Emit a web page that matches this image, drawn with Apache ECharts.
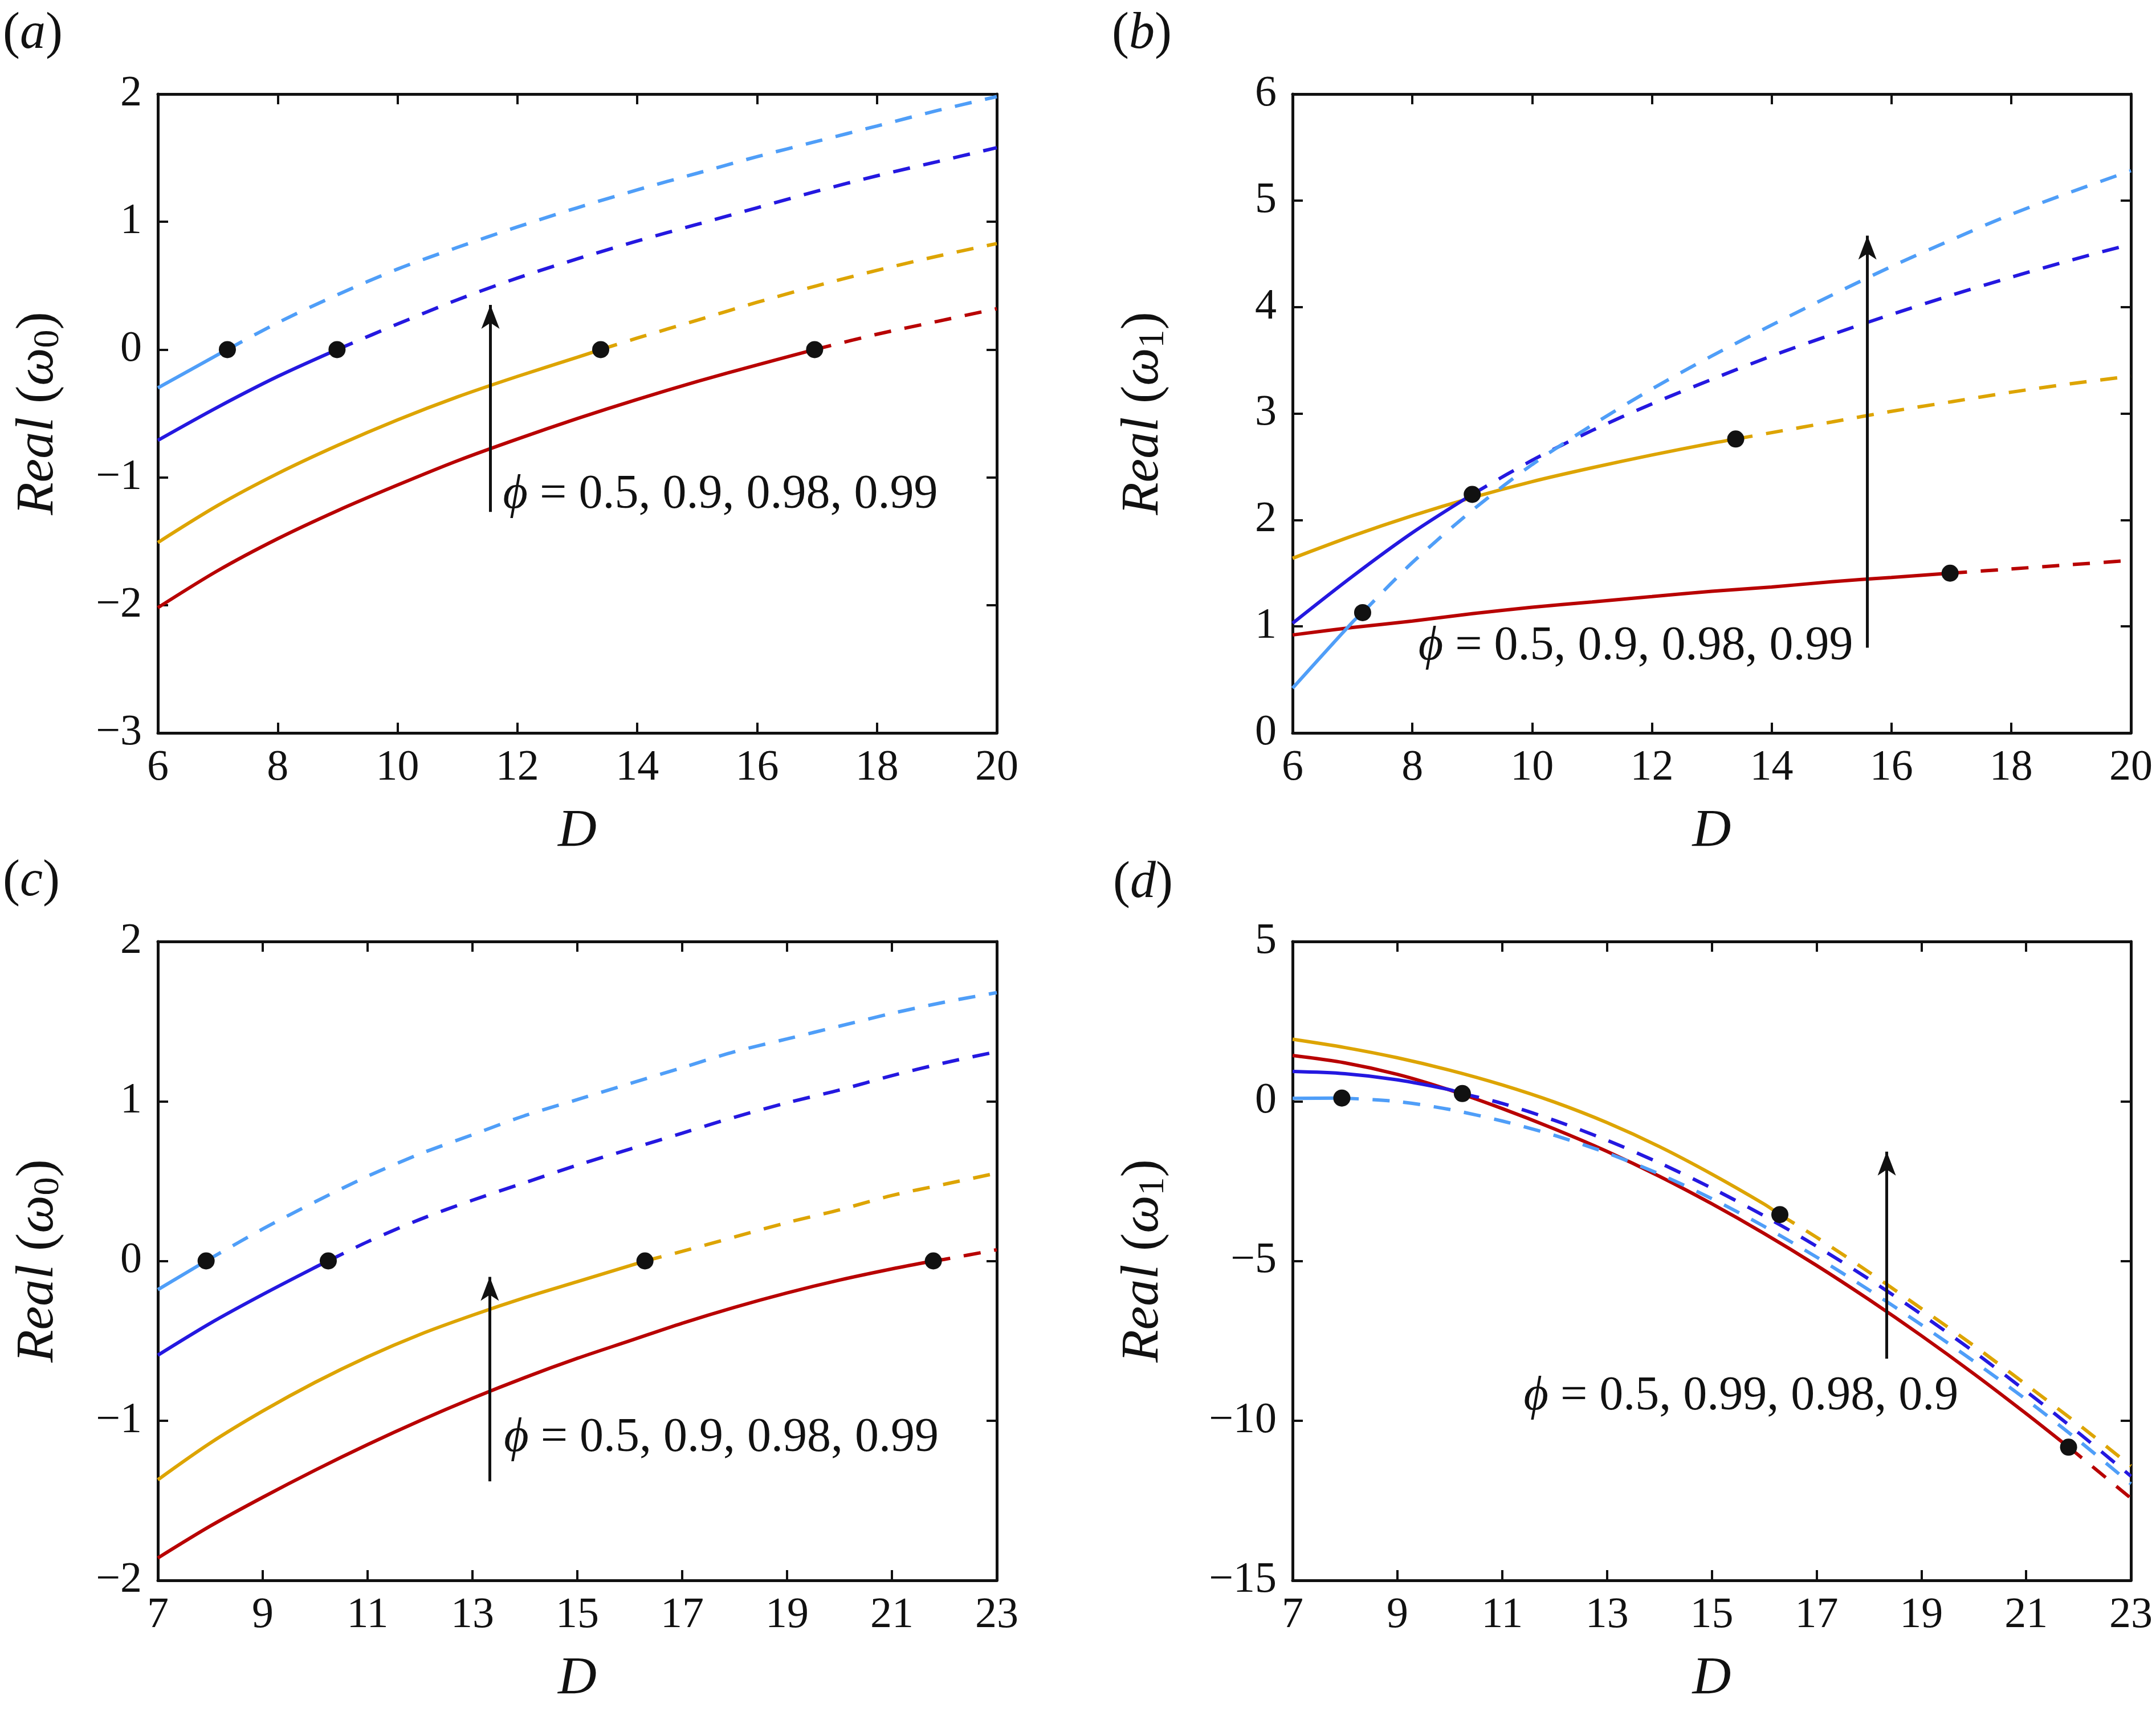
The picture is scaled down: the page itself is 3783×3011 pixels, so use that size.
<!DOCTYPE html>
<html>
<head>
<meta charset="utf-8">
<script src="https://cdn.jsdelivr.net/npm/echarts@6/dist/echarts.min.js"></script>
<style>
html,body{margin:0;padding:0;background:#fff;}
#chart{width:3783px;height:3011px;}
</style>
</head>
<body>
<div id="chart"></div>
<script>
// ---------------- data ----------------
// panel (a): Real(omega0) vs D
const aD = [6,7,8,9,10,11,12,13,14,15,16,17,18,19,20];
const aRed    = [-2.02,-1.73,-1.48,-1.26,-1.06,-0.87,-0.70,-0.54,-0.39,-0.25,-0.12,0.01,0.12,0.22,0.32];
const aYellow = [-1.51,-1.22,-0.97,-0.75,-0.55,-0.37,-0.21,-0.06,0.09,0.23,0.37,0.50,0.62,0.73,0.83];
const aBlue   = [-0.71,-0.45,-0.21,0.00,0.20,0.39,0.56,0.71,0.85,0.98,1.11,1.24,1.36,1.47,1.58];
const aLight  = [-0.30,-0.04,0.21,0.43,0.63,0.80,0.96,1.11,1.25,1.38,1.51,1.63,1.75,1.87,1.98];
const aCritD  = [16.96, 13.39, 8.99, 7.16];   // red, yellow, blue, light blue
const aCritV  = [0, 0, 0, 0];

// panel (b): Real(omega1) vs D
const bD = [6,7,8,9,10,11,12,13,14,15,16,17,18,19,20];
const bRed    = [0.92,0.99,1.05,1.12,1.18,1.23,1.28,1.33,1.37,1.42,1.46,1.50,1.54,1.58,1.62];
const bYellow = [1.64,1.85,2.04,2.21,2.36,2.49,2.61,2.72,2.82,2.92,3.02,3.11,3.20,3.28,3.35];
const bBlue   = [1.03,1.47,1.88,2.24,2.56,2.84,3.09,3.32,3.54,3.74,3.93,4.11,4.28,4.44,4.59];
const bLight  = [0.42,1.04,1.60,2.09,2.52,2.89,3.23,3.54,3.83,4.11,4.38,4.63,4.87,5.08,5.28];
const bCritD  = [16.98, 13.40, 9.00, 7.17];
const bCritV  = [1.50, 2.76, 2.24, 1.13];

// panel (c): Real(omega0) vs D
const cD = [7,8,9,10,11,12,13,14,15,16,17,18,19,20,21,22,23];
const cRed    = [-1.86,-1.66,-1.48,-1.31,-1.15,-1.00,-0.86,-0.73,-0.61,-0.50,-0.39,-0.29,-0.20,-0.12,-0.05,0.01,0.07];
const cYellow = [-1.37,-1.14,-0.94,-0.76,-0.60,-0.46,-0.34,-0.23,-0.13,-0.03,0.06,0.15,0.24,0.32,0.41,0.48,0.55];
const cBlue   = [-0.59,-0.39,-0.21,-0.04,0.12,0.26,0.38,0.49,0.60,0.70,0.80,0.90,0.99,1.07,1.16,1.24,1.31];
const cLight  = [-0.18,0.02,0.20,0.37,0.53,0.67,0.79,0.91,1.01,1.11,1.21,1.31,1.39,1.47,1.55,1.62,1.68];
const cCritD  = [21.79, 16.29, 10.25, 7.92];
const cCritV  = [0, 0, 0, 0];

// panel (d): Real(omega1) vs D
const dD = [7,8,9,10,11,12,13,14,15,16,17,18,19,20,21,22,23];
const dRed    = [1.43,1.20,0.84,0.35,-0.23,-0.87,-1.57,-2.35,-3.21,-4.14,-5.14,-6.21,-7.34,-8.53,-9.78,-11.08,-12.43];
const dYellow = [1.94,1.68,1.36,0.97,0.51,-0.03,-0.67,-1.42,-2.28,-3.22,-4.26,-5.35,-6.49,-7.65,-8.87,-10.12,-11.42];
const dBlue   = [0.93,0.86,0.67,0.36,-0.07,-0.60,-1.22,-1.93,-2.72,-3.59,-4.54,-5.57,-6.67,-7.84,-9.08,-10.38,-11.74];
const dLight  = [0.09,0.10,-0.01,-0.26,-0.62,-1.07,-1.62,-2.28,-3.05,-3.92,-4.88,-5.91,-7.00,-8.14,-9.34,-10.62,-11.98];
const dCritD  = [21.81, 16.30, 10.24, 7.94];
const dCritV  = [-10.83, -3.55, 0.24, 0.10];

// annotations: arrow [D, yFrom, yTo], text anchor [D, y]
const annArrow = [[11.55,-1.27,0.35],[15.60,0.80,4.67],[13.33,-1.38,-0.10],[18.34,-8.06,-1.58]];
const annText  = [[11.76,-1.14],[8.10,0.81],[13.60,-1.11],[11.41,-9.26]];
const annLabel = [' = 0.5, 0.9, 0.98, 0.99',' = 0.5, 0.9, 0.98, 0.99',' = 0.5, 0.9, 0.98, 0.99',' = 0.5, 0.99, 0.98, 0.9'];

// axes
const xRanges = [[6,20,2],[6,20,2],[7,23,2],[7,23,2]];
const yRanges = [[-3,2,1],[0,6,1],[-2,2,1],[-15,5,5]];
const yNames  = ['0','1','0','1'];
const panelTitles = ['a','b','c','d'];

// ---------------- styles ----------------
const SERIF = "Liberation Serif, Times New Roman, serif";
const INK = '#111';
const COLORS = ['#B80000','#DDA400','#2418E0','#4F9EF8']; // red, yellow, blue, light blue
const grids = [
  {left:277, top:165, width:1472, height:1121},
  {left:2268, top:165, width:1471, height:1121},
  {left:277, top:1652, width:1472, height:1121},
  {left:2268, top:1652, width:1471, height:1121}
];
const yNameGap = [160, 212, 160, 212];

const minus = v => (v < 0 ? '\u2212' + Math.abs(v) : String(v));

const xAxis = [], yAxis = [], series = [], title = [];
const panels = [
  {D:aD, curves:[aRed,aYellow,aBlue,aLight], cd:aCritD, cv:aCritV},
  {D:bD, curves:[bRed,bYellow,bBlue,bLight], cd:bCritD, cv:bCritV},
  {D:cD, curves:[cRed,cYellow,cBlue,cLight], cd:cCritD, cv:cCritV},
  {D:dD, curves:[dRed,dYellow,dBlue,dLight], cd:dCritD, cv:dCritV}
];

panels.forEach((p, g) => {
  const [x0,x1,xi] = xRanges[g];
  const [y0,y1,yi] = yRanges[g];
  const tick = {show:true, inside:true, length:18, lineStyle:{color:INK, width:4}};
  const line = {show:true, onZero:false, lineStyle:{color:INK, width:5}};
  xAxis.push({
    gridIndex:g, type:'value', min:x0, max:x1, interval:xi, position:'bottom',
    axisLine:line, axisTick:tick, splitLine:{show:false},
    axisLabel:{color:INK, fontFamily:SERIF, fontSize:76, margin:24, formatter:minus},
    name:'D', nameLocation:'middle', nameGap:126,
    nameTextStyle:{color:INK, fontFamily:SERIF, fontSize:94, fontStyle:'italic'}
  });
  xAxis.push({
    gridIndex:g, type:'value', min:x0, max:x1, interval:xi, position:'top',
    axisLine:line, axisTick:tick, splitLine:{show:false}, axisLabel:{show:false}
  });
  yAxis.push({
    gridIndex:g, type:'value', min:y0, max:y1, interval:yi, position:'left',
    axisLine:line, axisTick:tick, splitLine:{show:false},
    axisLabel:{color:INK, fontFamily:SERIF, fontSize:76, margin:28, formatter:minus},
    name:'{i|Real} ({i|\u03C9}{s|' + yNames[g] + '})', nameLocation:'middle', nameGap:yNameGap[g], nameRotate:90,
    nameTextStyle:{color:INK, fontFamily:SERIF, fontSize:94,
      rich:{
        i:{fontStyle:'italic', fontFamily:SERIF, fontSize:94, color:INK, lineHeight:100},
        s:{fontFamily:SERIF, fontSize:64, color:INK, lineHeight:100, verticalAlign:'bottom', padding:[30,0,0,0]}
      }}
  });
  yAxis.push({
    gridIndex:g, type:'value', min:y0, max:y1, interval:yi, position:'right',
    axisLine:line, axisTick:tick, splitLine:{show:false}, axisLabel:{show:false}
  });

  const xa = 2*g, ya = 2*g;
  p.curves.forEach((vals, k) => {
    const cd = p.cd[k], cv = p.cv[k];
    const solid = [], dashed = [];
    p.D.forEach((d, i) => { if (d < cd - 0.1) solid.push([d, vals[i]]); });
    solid.push([cd, cv]);
    dashed.push([cd, cv]);
    p.D.forEach((d, i) => { if (d > cd + 0.1) dashed.push([d, vals[i]]); });
    series.push({type:'line', xAxisIndex:xa, yAxisIndex:ya, data:solid, smooth:0.3,
      showSymbol:false, symbol:'none', silent:true, z:3,
      lineStyle:{color:COLORS[k], width:6, type:'solid'}});
    series.push({type:'line', xAxisIndex:xa, yAxisIndex:ya, data:dashed, smooth:0.3,
      showSymbol:false, symbol:'none', silent:true, z:3,
      lineStyle:{color:COLORS[k], width:6, type:[30,24]}});
  });
  series.push({type:'scatter', xAxisIndex:xa, yAxisIndex:ya, z:5, silent:true,
    symbol:'circle', symbolSize:30, itemStyle:{color:INK, opacity:1},
    data:p.cd.map((d, k) => [d, p.cv[k]])});

  const ar = annArrow[g], tx = annText[g];
  series.push({type:'scatter', xAxisIndex:xa, yAxisIndex:ya, z:6, silent:true,
    symbolSize:0, itemStyle:{opacity:1, color:INK}, data:[[tx[0], tx[1]]],
    label:{show:true, position:'right', distance:0, color:INK, opacity:1, fontFamily:SERIF, fontSize:84,
      formatter:'{i|\u03D5}' + annLabel[g],
      rich:{i:{fontStyle:'italic', fontFamily:SERIF, fontSize:84, color:INK}}},
    markLine:{silent:true, symbol:['none','arrow'], symbolSize:[24,42],
      lineStyle:{color:INK, width:5, type:'solid', opacity:1}, label:{show:false},
      data:[[{coord:[ar[0], ar[1]]},{coord:[ar[0], ar[2]]}]]}
  });
});

const titleLeft = [0, 1946, 0, 1948];
const titleTop  = [10, 10, 1497, 1500];
panelTitles.forEach((t, g) => {
  title.push({text:'({i|' + t + '})', left:titleLeft[g], top:titleTop[g],
    textStyle:{color:INK, fontFamily:SERIF, fontSize:90, fontWeight:'normal',
      rich:{i:{fontStyle:'italic', fontFamily:SERIF, fontSize:90, color:INK}}}});
});

const chart = echarts.init(document.getElementById('chart'), null, {renderer:'canvas'});
chart.setOption({
  animation:false,
  backgroundColor:'#fff',
  title:title,
  grid:grids,
  xAxis:xAxis,
  yAxis:yAxis,
  series:series
});
</script>
</body>
</html>
